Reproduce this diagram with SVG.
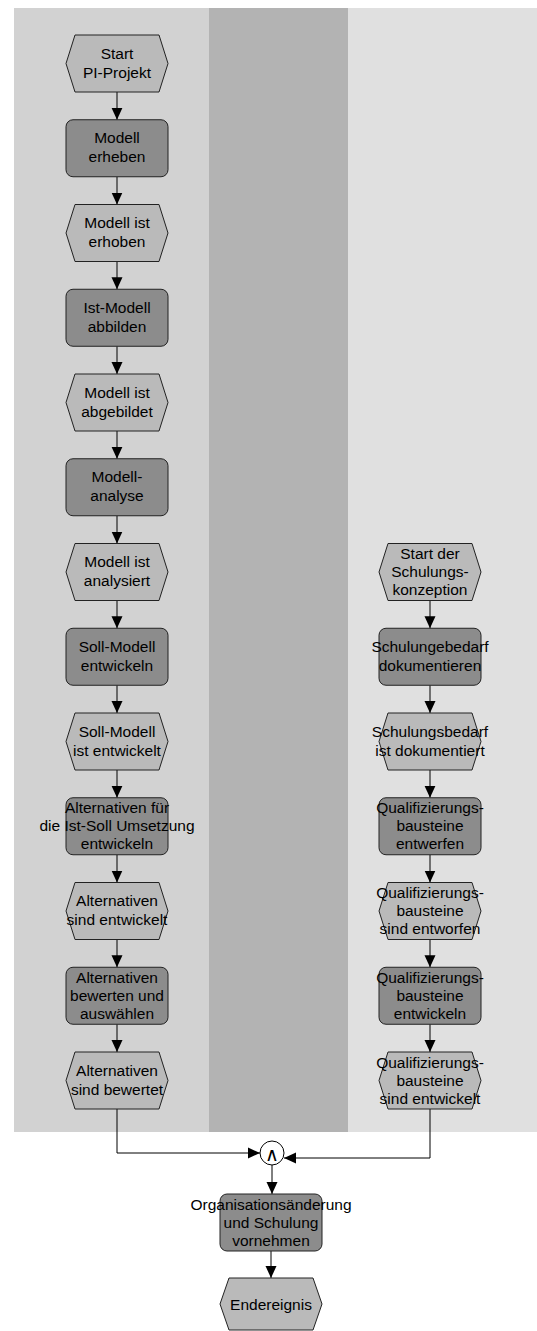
<svg xmlns="http://www.w3.org/2000/svg" width="537" height="1331" viewBox="0 0 537 1331">
  <style>
    .ev { fill: #bababa; stroke: #222; stroke-width: 1; }
    .fn { fill: #8c8c8c; stroke: #222; stroke-width: 1; }
    .lbl { font-family: "Liberation Sans", Arial, sans-serif; font-size: 15.5px; fill: #000; text-anchor: middle; }
    .con { fill: none; stroke: #000; stroke-width: 1; marker-end: url(#arr); }
  </style>
  <defs>
    <marker id="arr" viewBox="0 0 12 12" refX="12" refY="6" markerWidth="12" markerHeight="12" markerUnits="userSpaceOnUse" orient="auto">
      <path d="M0,0.5 L12,6 L0,11.5 z" fill="#000"/>
    </marker>
  </defs>

  <!-- swimlane background -->
  <g id="lanes">
    <rect x="14" y="8" width="195" height="1124" fill="#d2d2d2"/>
    <rect x="209" y="8" width="139" height="1124" fill="#b3b3b3"/>
    <rect x="348" y="8" width="189" height="1124" fill="#e0e0e0"/>
  </g>

  <!-- connectors -->
  <g id="connectors">
    <path class="con" d="M117,92 V119.75"/>
    <path class="con" d="M117,176.75 V204.5"/>
    <path class="con" d="M117,261.5 V289.25"/>
    <path class="con" d="M117,346.25 V374"/>
    <path class="con" d="M117,431 V458.75"/>
    <path class="con" d="M117,515.75 V543.5"/>
    <path class="con" d="M117,600.5 V628.25"/>
    <path class="con" d="M117,685.25 V713"/>
    <path class="con" d="M117,770 V797.75"/>
    <path class="con" d="M117,854.75 V882.5"/>
    <path class="con" d="M117,939.5 V967.25"/>
    <path class="con" d="M117,1024.25 V1052"/>
    <path class="con" d="M430,600.5 V628.25"/>
    <path class="con" d="M430,685.25 V713"/>
    <path class="con" d="M430,770 V797.75"/>
    <path class="con" d="M430,854.75 V882.5"/>
    <path class="con" d="M430,939.5 V967.25"/>
    <path class="con" d="M430,1024.25 V1052"/>
    <path class="con" d="M117,1109 V1153 H260"/>
    <path class="con" d="M430,1109 V1158 H284"/>
    <path class="con" d="M272,1165 V1194"/>
    <path class="con" d="M271,1251 V1278"/>
  </g>

  <!-- left lane -->
  <g id="start-pi">
    <polygon class="ev" points="75,35 159,35 168,63.5 159,92 75,92 66,63.5"/>
    <text class="lbl"><tspan x="117" y="58.5">Start</tspan><tspan x="117" y="77.5">PI-Projekt</tspan></text>
  </g>
  <g id="modell-erheben">
    <rect class="fn" x="66" y="119.75" width="102" height="57" rx="7"/>
    <text class="lbl"><tspan x="117" y="143.25">Modell</tspan><tspan x="117" y="162.25">erheben</tspan></text>
  </g>
  <g id="modell-erhoben">
    <polygon class="ev" points="75,204.5 159,204.5 168,233 159,261.5 75,261.5 66,233"/>
    <text class="lbl"><tspan x="117" y="228">Modell ist</tspan><tspan x="117" y="247">erhoben</tspan></text>
  </g>
  <g id="ist-modell-abbilden">
    <rect class="fn" x="66" y="289.25" width="102" height="57" rx="7"/>
    <text class="lbl"><tspan x="117" y="312.75">Ist-Modell</tspan><tspan x="117" y="331.75">abbilden</tspan></text>
  </g>
  <g id="modell-abgebildet">
    <polygon class="ev" points="75,374 159,374 168,402.5 159,431 75,431 66,402.5"/>
    <text class="lbl"><tspan x="117" y="397.5">Modell ist</tspan><tspan x="117" y="416.5">abgebildet</tspan></text>
  </g>
  <g id="modell-analyse">
    <rect class="fn" x="66" y="458.75" width="102" height="57" rx="7"/>
    <text class="lbl"><tspan x="117" y="482.25">Modell-</tspan><tspan x="117" y="501.25">analyse</tspan></text>
  </g>
  <g id="modell-analysiert">
    <polygon class="ev" points="75,543.5 159,543.5 168,572 159,600.5 75,600.5 66,572"/>
    <text class="lbl"><tspan x="117" y="567">Modell ist</tspan><tspan x="117" y="586">analysiert</tspan></text>
  </g>
  <g id="soll-modell-entwickeln">
    <rect class="fn" x="66" y="628.25" width="102" height="57" rx="7"/>
    <text class="lbl"><tspan x="117" y="651.75">Soll-Modell</tspan><tspan x="117" y="670.75">entwickeln</tspan></text>
  </g>
  <g id="soll-modell-entwickelt">
    <polygon class="ev" points="75,713 159,713 168,741.5 159,770 75,770 66,741.5"/>
    <text class="lbl"><tspan x="117" y="736.5">Soll-Modell</tspan><tspan x="117" y="755.5">ist entwickelt</tspan></text>
  </g>
  <g id="alternativen-entwickeln">
    <rect class="fn" x="66" y="797.75" width="102" height="57" rx="7"/>
    <text class="lbl"><tspan x="117" y="813.25">Alternativen für</tspan><tspan x="117" y="831.25">die Ist-Soll Umsetzung</tspan><tspan x="117" y="849.25">entwickeln</tspan></text>
  </g>
  <g id="alternativen-entwickelt">
    <polygon class="ev" points="75,882.5 159,882.5 168,911 159,939.5 75,939.5 66,911"/>
    <text class="lbl"><tspan x="117" y="906">Alternativen</tspan><tspan x="117" y="925">sind entwickelt</tspan></text>
  </g>
  <g id="alternativen-bewerten">
    <rect class="fn" x="66" y="967.25" width="102" height="57" rx="7"/>
    <text class="lbl"><tspan x="117" y="982.75">Alternativen</tspan><tspan x="117" y="1000.75">bewerten und</tspan><tspan x="117" y="1018.75">auswählen</tspan></text>
  </g>
  <g id="alternativen-bewertet">
    <polygon class="ev" points="75,1052 159,1052 168,1080.5 159,1109 75,1109 66,1080.5"/>
    <text class="lbl"><tspan x="117" y="1075.5">Alternativen</tspan><tspan x="117" y="1094.5">sind bewertet</tspan></text>
  </g>

  <!-- right lane -->
  <g id="start-schulung">
    <polygon class="ev" points="388,543.5 472,543.5 481,572 472,600.5 388,600.5 379,572"/>
    <text class="lbl"><tspan x="430" y="559">Start der</tspan><tspan x="430" y="577">Schulungs-</tspan><tspan x="430" y="595">konzeption</tspan></text>
  </g>
  <g id="bedarf-dokumentieren">
    <rect class="fn" x="379" y="628.25" width="102" height="57" rx="7"/>
    <text class="lbl"><tspan x="430" y="651.75">Schulungebedarf</tspan><tspan x="430" y="670.75">dokumentieren</tspan></text>
  </g>
  <g id="bedarf-dokumentiert">
    <polygon class="ev" points="388,713 472,713 481,741.5 472,770 388,770 379,741.5"/>
    <text class="lbl"><tspan x="430" y="736.5">Schulungsbedarf</tspan><tspan x="430" y="755.5">ist dokumentiert</tspan></text>
  </g>
  <g id="bausteine-entwerfen">
    <rect class="fn" x="379" y="797.75" width="102" height="57" rx="7"/>
    <text class="lbl"><tspan x="430" y="813.25">Qualifizierungs-</tspan><tspan x="430" y="831.25">bausteine</tspan><tspan x="430" y="849.25">entwerfen</tspan></text>
  </g>
  <g id="bausteine-entworfen">
    <polygon class="ev" points="388,882.5 472,882.5 481,911 472,939.5 388,939.5 379,911"/>
    <text class="lbl"><tspan x="430" y="898">Qualifizierungs-</tspan><tspan x="430" y="916">bausteine</tspan><tspan x="430" y="934">sind entworfen</tspan></text>
  </g>
  <g id="bausteine-entwickeln">
    <rect class="fn" x="379" y="967.25" width="102" height="57" rx="7"/>
    <text class="lbl"><tspan x="430" y="982.75">Qualifizierungs-</tspan><tspan x="430" y="1000.75">bausteine</tspan><tspan x="430" y="1018.75">entwickeln</tspan></text>
  </g>
  <g id="bausteine-entwickelt">
    <polygon class="ev" points="388,1052 472,1052 481,1080.5 472,1109 388,1109 379,1080.5"/>
    <text class="lbl"><tspan x="430" y="1067.5">Qualifizierungs-</tspan><tspan x="430" y="1085.5">bausteine</tspan><tspan x="430" y="1103.5">sind entwickelt</tspan></text>
  </g>

  <!-- join and final steps -->
  <g id="and-join">
    <circle cx="272" cy="1153" r="12" fill="#fff" stroke="#000" stroke-width="1"/>
    <text x="272" y="1160.5" font-family="DejaVu Sans, sans-serif" font-size="19" text-anchor="middle" fill="#000">∧</text>
  </g>
  <g id="organisation-schulung">
    <rect class="fn" x="220" y="1194" width="102" height="57" rx="7"/>
    <text class="lbl"><tspan x="271" y="1209.5">Organisationsänderung</tspan><tspan x="271" y="1227.5">und Schulung</tspan><tspan x="271" y="1245.5">vornehmen</tspan></text>
  </g>
  <g id="endereignis">
    <polygon class="ev" points="229,1278 313,1278 322,1304 313,1330 229,1330 220,1304"/>
    <text class="lbl" x="271" y="1310">Endereignis</text>
  </g>
</svg>
